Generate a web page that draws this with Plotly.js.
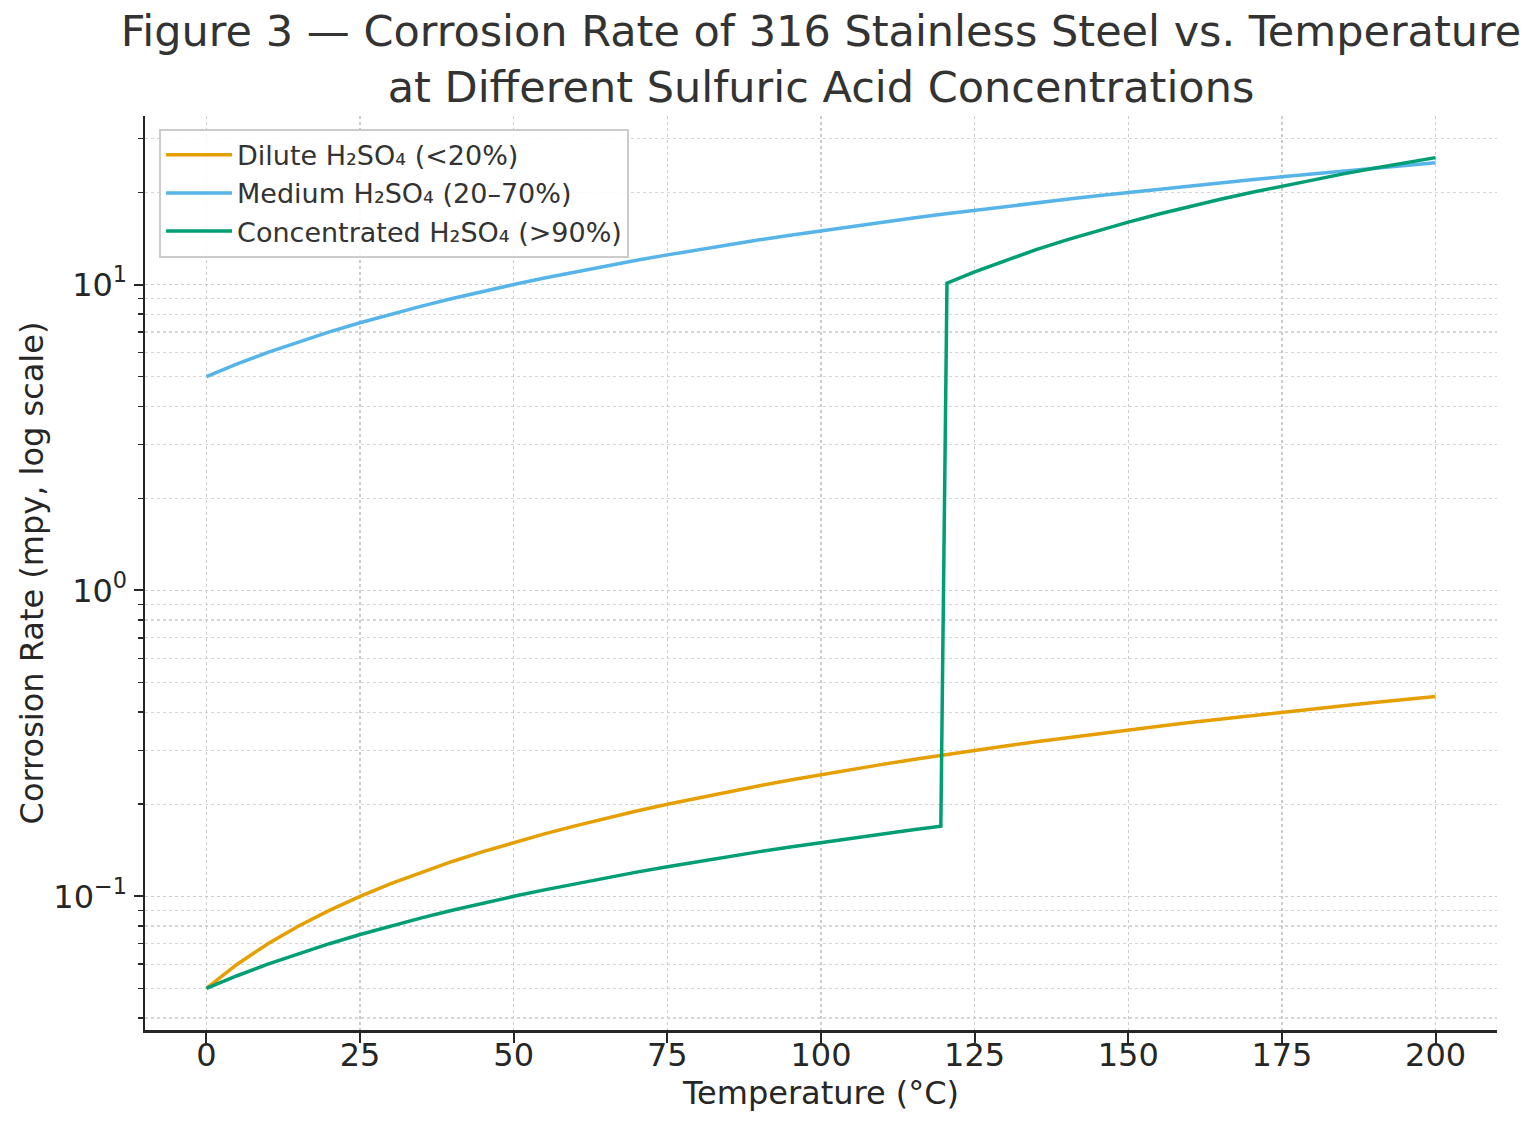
<!DOCTYPE html>
<html>
<head>
<meta charset="utf-8">
<script src="https://cdn.plot.ly/plotly-3.0.1.min.js"></script>
<style>
html,body{margin:0;padding:0;background:#fff;}
#chart{width:1536px;height:1132px;}
</style>
</head>
<body>
<div id="chart"></div>
<script>
// Temperatures (°C)
const temps = [0,5,10,15,20,25,30,35,40,45,50,55,60,65,70,75,80,85,90,95,100,
  105,110,115,120,125,130,135,140,145,150,155,160,165,170,175,180,185,190,195,200];
// Dilute H2SO4 (<20%) corrosion rate (mpy)
const dilute = [0.05,0.06,0.07,0.08,0.09,0.10,0.11,0.12,0.13,0.14,0.15,0.16,0.17,0.18,0.19,0.20,
  0.21,0.22,0.23,0.24,0.25,0.26,0.27,0.28,0.29,0.30,0.31,0.32,0.33,0.34,0.35,0.36,0.37,0.38,0.39,
  0.40,0.41,0.42,0.43,0.44,0.45];
// Medium H2SO4 (20–70%)
const medium = [5.0,5.5,6.0,6.5,7.0,7.5,8.0,8.5,9.0,9.5,10.0,10.5,11.0,11.5,12.0,12.5,13.0,13.5,
  14.0,14.5,15.0,15.5,16.0,16.5,17.0,17.5,18.0,18.5,19.0,19.5,20.0,20.5,21.0,21.5,22.0,22.5,23.0,
  23.5,24.0,24.5,25.0];
// Concentrated H2SO4 (>90%) – own temperature grid because of the jump near 120 °C
const concTemps = [0,5,10,15,20,25,30,35,40,45,50,55,60,65,70,75,80,85,90,95,100,105,110,115,119.5,
  120.5,125,130,135,140,145,150,155,160,165,170,175,180,185,190,195,200];
const concentrated = [0.05,0.055,0.06,0.065,0.07,0.075,0.08,0.085,0.09,0.095,0.10,0.105,0.11,0.115,
  0.12,0.125,0.13,0.135,0.14,0.145,0.15,0.155,0.16,0.165,0.1695,
  10.1,11,12,13,14,15,16,17,18,19,20,21,22,23,24,25,26];

const seriesNames = ['Dilute H₂SO₄ (&lt;20%)','Medium H₂SO₄ (20–70%)','Concentrated H₂SO₄ (&gt;90%)'];
const seriesColors = ['#E69F00','#56B4E9','#009E73'];

const xTicks = [0,25,50,75,100,125,150,175,200];
const yTickVals = [0.1,1,10];
const yTickText = ['10<sup>−1</sup>','10<sup>0</sup>','10<sup>1</sup>'];
const yMinorVals = [0.04,0.05,0.06,0.07,0.08,0.09,0.2,0.3,0.4,0.5,0.6,0.7,0.8,0.9,
  2,3,4,5,6,7,8,9,20,30];

const FONT = 'DejaVu Sans, Verdana, sans-serif';

const traces = [
  {x: temps, y: dilute, name: seriesNames[0]},
  {x: temps, y: medium, name: seriesNames[1]},
  {x: concTemps, y: concentrated, name: seriesNames[2]}
].map((t,i)=>Object.assign(t,{type:'scatter',mode:'lines',line:{color:seriesColors[i],width:3.5}}));

const layout = {
  width:1536, height:1132,
  paper_bgcolor:'#ffffff', plot_bgcolor:'#ffffff',
  margin:{l:145, r:39, t:116, b:102},
  font:{family:FONT, color:'#262626'},
  title:{
    text:'Figure 3 — Corrosion Rate of 316 Stainless Steel vs. Temperature<br>at Different Sulfuric Acid Concentrations',
    font:{family:FONT, size:43, color:'#333333'},
    x:0.5, xref:'paper', xanchor:'center',
    y:0.959, yref:'container', yanchor:'top'
  },
  xaxis:{
    range:[-10,210],
    tickmode:'array', tickvals:xTicks,
    ticks:'outside', ticklen:10, tickwidth:2, tickcolor:'#262626',
    tickfont:{size:32, color:'#262626'},
    ticklabelstandoff:-15,
    showline:true, linecolor:'#262626', linewidth:2.5,
    showgrid:true, gridcolor:'#cccccc', griddash:'dot', gridwidth:1.5,
    zeroline:false,
    title:{text:'Temperature (°C)', font:{size:32, color:'#262626'}, standoff:2}
  },
  yaxis:{
    type:'log',
    range:[-1.437,1.551],
    tickmode:'array', tickvals:yTickVals, ticktext:yTickText,
    ticks:'outside', ticklen:9, tickwidth:2, tickcolor:'#262626',
    tickfont:{size:32, color:'#262626'},
    showline:true, linecolor:'#262626', linewidth:2.5,
    showgrid:true, gridcolor:'#cccccc', griddash:'dot', gridwidth:1.5,
    zeroline:false,
    minor:{tickmode:'array', tickvals:yMinorVals, ticks:'outside', ticklen:5, tickwidth:1.5,
      tickcolor:'#262626', showgrid:true, gridcolor:'#d6d6d6', griddash:'dot', gridwidth:1.3},
    title:{text:'Corrosion Rate (mpy, log scale)', font:{size:32, color:'#262626'}, standoff:0}
  },
  showlegend:true,
  legend:{
    x:0.0104, y:0.986, xanchor:'left', yanchor:'top',
    bgcolor:'rgba(255,255,255,0.85)', bordercolor:'#cccccc', borderwidth:2,
    font:{family:FONT, size:27, color:'#333333'},
    itemwidth:66
  }
};

Plotly.newPlot('chart', traces, layout, {displayModeBar:false, staticPlot:true});
</script>
</body>
</html>
